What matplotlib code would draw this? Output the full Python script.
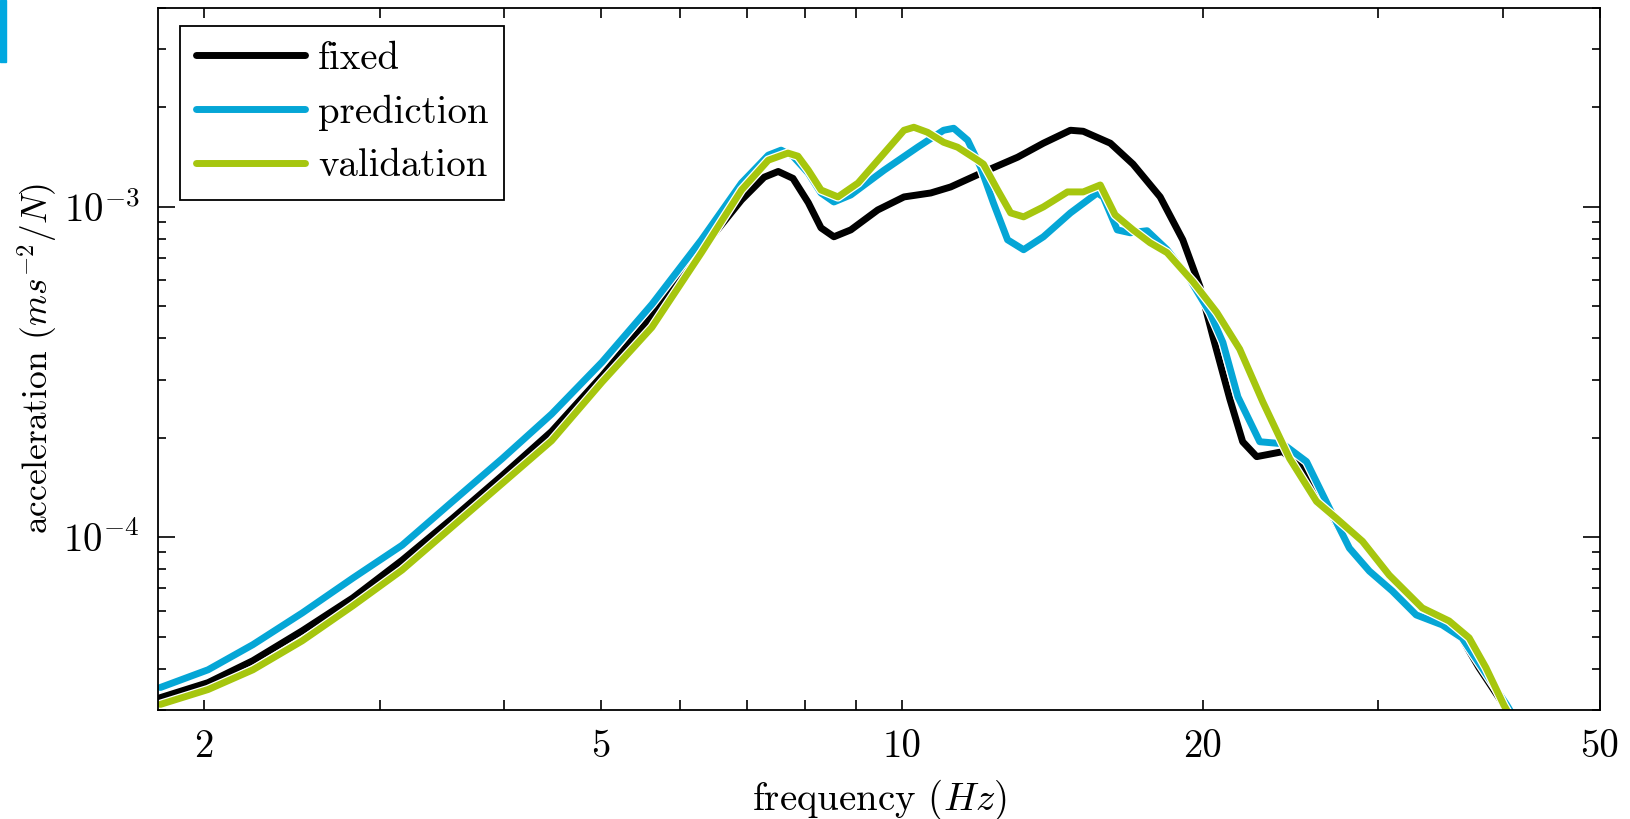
import matplotlib
matplotlib.use("Agg")
import matplotlib.pyplot as plt
import matplotlib.patheffects as pe
from matplotlib.ticker import FixedLocator, NullFormatter, LogLocator
from matplotlib.patches import Rectangle

plt.rcParams['font.family'] = 'serif'
plt.rcParams['font.serif'] = ['cmr10']
plt.rcParams['mathtext.fontset'] = 'cm'
plt.rcParams['axes.formatter.use_mathtext'] = True
plt.rcParams['axes.unicode_minus'] = False

# curves (frequency in Hz, acceleration in m s^-2 / N)
fixed_freq = [1.81, 2.02, 2.24, 2.51, 2.82, 3.16, 3.55, 3.98, 4.46, 5.01,
              5.62, 6.30, 6.91, 7.28, 7.52, 7.78, 8.06, 8.30, 8.55, 8.89,
              9.46, 10.05, 10.69, 11.19, 12.07, 13.06, 13.86, 14.75, 15.19, 16.17,
              17.04, 18.14, 19.11, 19.88, 20.48, 21.30, 21.94, 22.66, 24.06, 25.19,
              26.61, 28.06, 29.38, 30.97, 32.73, 34.75, 36.38, 37.83, 40.07, 41.0]
fixed_acc = [3.27e-5, 3.63e-5, 4.23e-5, 5.21e-5, 6.55e-5, 8.52e-5, 1.141e-4, 1.537e-4, 2.09e-4, 3.08e-4,
             4.66e-4, 7.42e-4, 1.05e-3, 1.23e-3, 1.28e-3, 1.22e-3, 1.03e-3, 8.64e-4, 8.12e-4, 8.52e-4,
             9.79e-4, 1.072e-3, 1.102e-3, 1.149e-3, 1.275e-3, 1.414e-3, 1.559e-3, 1.706e-3, 1.694e-3, 1.559e-3,
             1.347e-3, 1.072e-3, 7.95e-4, 5.74e-4, 4.06e-4, 2.62e-4, 1.946e-4, 1.754e-4, 1.816e-4, 1.614e-4,
             1.249e-4, 9.27e-5, 7.9e-5, 6.88e-5, 5.82e-5, 5.43e-5, 4.93e-5, 4.03e-5, 3.10e-5, 2.75e-5]

pred_freq = [1.81, 2.02, 2.24, 2.51, 2.82, 3.16, 3.55, 3.98, 4.46, 5.01,
             5.62, 6.30, 6.91, 7.35, 7.57, 7.78, 8.06, 8.30, 8.55, 8.89,
             9.60, 10.37, 11.01, 11.27, 11.64, 11.99, 12.35, 12.76, 13.24, 13.86,
             14.75, 15.69, 15.91, 16.43, 16.93, 17.60, 18.43, 19.43, 20.34, 20.96,
             21.7, 22.82, 24.06, 25.42, 26.80, 28.06, 29.38, 30.97, 32.73, 34.75,
             36.38, 38.09, 40.35, 41.3]
pred_acc = [3.51e-5, 3.97e-5, 4.73e-5, 5.90e-5, 7.52e-5, 9.46e-5, 1.284e-4, 1.73e-4, 2.36e-4, 3.39e-4,
            5.07e-4, 7.95e-4, 1.181e-3, 1.434e-3, 1.485e-3, 1.424e-3, 1.266e-3, 1.102e-3, 1.035e-3, 1.087e-3,
            1.292e-3, 1.516e-3, 1.706e-3, 1.73e-3, 1.591e-3, 1.32e-3, 1.028e-3, 7.95e-4, 7.42e-4, 8.12e-4,
            9.59e-4, 1.102e-3, 1.072e-3, 8.52e-4, 8.35e-4, 8.47e-4, 7.42e-4, 6.03e-4, 4.79e-4, 3.89e-4,
            2.66e-4, 1.946e-4, 1.919e-4, 1.694e-4, 1.223e-4, 9.27e-5, 7.9e-5, 6.88e-5, 5.82e-5, 5.43e-5,
            4.96e-5, 4.03e-5, 3.10e-5, 2.75e-5]

val_freq = [1.81, 2.02, 2.24, 2.51, 2.82, 3.16, 3.55, 3.98, 4.46, 5.01,
            5.62, 6.30, 6.91, 7.35, 7.69, 7.87, 8.06, 8.30, 8.63, 9.04,
            9.60, 10.05, 10.28, 10.61, 11.01, 11.37, 11.91, 12.07, 12.47, 12.85,
            13.24, 13.86, 14.65, 15.19, 15.80, 16.35, 17.04, 17.72, 18.43, 19.56,
            20.67, 21.79, 22.98, 24.45, 26.01, 27.23, 28.92, 30.76, 33.19, 35.31,
            36.98, 38.44, 40.07, 41.0]
val_acc = [3.12e-5, 3.46e-5, 3.97e-5, 4.86e-5, 6.20e-5, 7.96e-5, 1.079e-4, 1.455e-4, 1.96e-4, 2.95e-4,
           4.32e-4, 7.27e-4, 1.125e-3, 1.385e-3, 1.455e-3, 1.424e-3, 1.292e-3, 1.125e-3, 1.072e-3, 1.181e-3,
           1.455e-3, 1.706e-3, 1.742e-3, 1.682e-3, 1.569e-3, 1.516e-3, 1.385e-3, 1.347e-3, 1.125e-3, 9.59e-4,
           9.33e-4, 1.0e-3, 1.110e-3, 1.110e-3, 1.165e-3, 9.46e-4, 8.52e-4, 7.79e-4, 7.27e-4, 5.94e-4,
           4.79e-4, 3.71e-4, 2.57e-4, 1.73e-4, 1.284e-4, 1.141e-4, 9.72e-5, 7.68e-5, 6.11e-5, 5.58e-5,
           4.96e-5, 4.03e-5, 3.10e-5, 2.75e-5]

labels = ["fixed", "prediction", "validation"]
colors = ["#000000", "#05a6d6", "#a6c60e"]
x_major = [2, 5, 10, 20, 50]
x_minor = [3, 4, 6, 7, 8, 9, 30, 40]

fig = plt.figure(figsize=(16.31, 8.19), dpi=100)
ax = fig.add_axes([158 / 1631, 109 / 819, (1600 - 158) / 1631, (710 - 8) / 819])

halo = [pe.Stroke(linewidth=6.8, foreground="white"), pe.Normal()]
for fr, ac, lab, col in zip([fixed_freq, pred_freq, val_freq],
                            [fixed_acc, pred_acc, val_acc], labels, colors):
    ax.plot(fr, ac, color=col, lw=5.0, label=lab, solid_joinstyle="round",
            solid_capstyle="round", path_effects=halo)

ax.set_xscale("log")
ax.set_yscale("log")
ax.set_xlim(1.8, 50)
ax.set_ylim(3.0e-5, 4.0e-3)

ax.xaxis.set_major_locator(FixedLocator(x_major))
ax.xaxis.set_major_formatter(plt.FixedFormatter([str(v) for v in x_major]))
ax.xaxis.set_minor_locator(FixedLocator(x_minor))
ax.xaxis.set_minor_formatter(NullFormatter())
ax.yaxis.set_major_locator(LogLocator(base=10))
ax.yaxis.set_minor_locator(LogLocator(base=10, subs=range(2, 10)))
ax.yaxis.set_minor_formatter(NullFormatter())

fs = 28
ax.tick_params(which="both", direction="in", top=True, right=True, width=1.2)
ax.tick_params(axis="x", which="both", length=7, pad=14, labelsize=fs)
ax.tick_params(axis="y", which="major", length=12, pad=13, labelsize=fs)
ax.tick_params(axis="y", which="minor", length=6)
for s in ax.spines.values():
    s.set_linewidth(1.3)

ax.set_xlabel(r"frequency $(Hz)$", fontsize=fs, labelpad=9)
ax.set_ylabel(r"acceleration $(ms^{-2}/N)$", fontsize=25.5, labelpad=3)

leg = ax.legend(loc="upper left", bbox_to_anchor=(0.0153, 0.975), borderaxespad=0,
                fontsize=fs, handlelength=2.8, handletextpad=0.35, labelspacing=0.45,
                borderpad=0.4, fancybox=False, framealpha=1, edgecolor="black")
leg.get_frame().set_linewidth(1.3)
for h in leg.get_lines():
    h.set_linewidth(5.0)
    h.set_path_effects([])

# small cyan marker strip at the top-left corner of the image
fig.patches.append(Rectangle((0, 1 - 62 / 819), 6 / 1631, 62 / 819, transform=fig.transFigure,
                             color="#00a8e0", zorder=5))

fig.savefig("out.png", dpi=100)
